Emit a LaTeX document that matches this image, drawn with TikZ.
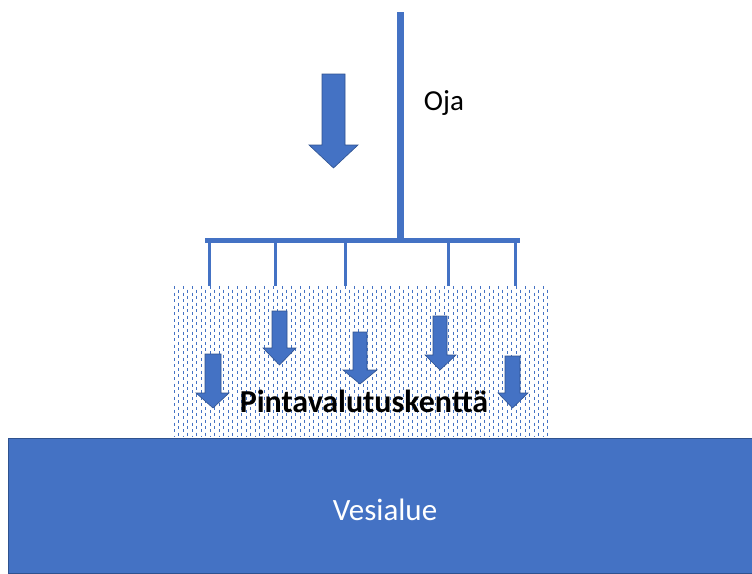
\documentclass[tikz,border=0pt]{standalone}
\usepackage{fontspec}
\setmainfont{Carlito}
\definecolor{accblue}{HTML}{4472C4}
\definecolor{darkblue}{HTML}{2F528F}
\begin{document}
\begin{tikzpicture}[x=1pt,y=-1pt,
  pipe/.style={draw=accblue,line width=#1},
  blockarrow/.style={fill=accblue,draw=darkblue,line width=0.6pt},
  lbl/.style={inner sep=0pt,anchor=center}]
\useasboundingbox (0,0) rectangle (752,573);
% water area
\node[draw=darkblue,fill=accblue,line width=1pt,minimum width=744,minimum height=135,inner sep=0pt,anchor=north west] (vesi) at (8,438) {};
\node[lbl,text=white,font=\fontsize{31}{36}\selectfont] (vesitxt) at (385,510) {Vesialue};
% dotted field
\foreach \i in {0,...,83}{
  \pgfmathsetmacro{\xx}{174+\i*4.5}
  \pgfmathsetmacro{\ph}{mod(\i,2)*3}
  \draw[accblue,line width=0.6pt,dash pattern=on 3 off 3.5,dash phase=\ph] (\xx,286) -- (\xx,437);
}
% ditch
\coordinate (ojatop) at (400.5,12);
\coordinate (ojabot) at (400.5,240);
\draw[pipe=7] (ojatop) -- (ojabot);
\coordinate (hl) at (207,240);
\coordinate (hr) at (517.5,240);
\draw[pipe=5,line cap=rect] (hl) -- (hr);
\foreach \x/\n in {209/a,275/b,345/c,448/d,515/e}{
  \coordinate (t\n) at (\x,240);
  \coordinate (b\n) at (\x,286);
  \draw[pipe=3] (t\n) -- (b\n);
}
\node[lbl,font=\fontsize{29}{34}\selectfont] (oja) at (444,103) {Oja};
% big arrow
\draw[blockarrow] (322,74) -- (345,74) -- (345,145) -- (358,145) -- (333.5,168) -- (309,145) -- (322,145) -- cycle;
% small arrows: left, right, top, headstart, headleft, headright, tip
\foreach \l/\r/\t/\h/\hl/\hr/\tp in {
  205/221/354/393/196/229/408,
  272/287/311/348/263/296/365,
  353/367/332/370/343/377/384,
  433/447/316/355/425/456/370,
  505/520/356/393/498/528/408}{
  \draw[blockarrow] (\l,\t) -- (\r,\t) -- (\r,\h) -- (\hr,\h) -- ({(\l+\r)/2},\tp) -- (\hl,\h) -- (\l,\h) -- cycle;
}
\node[lbl,font=\bfseries\fontsize{32}{38}\selectfont] (pinta) at (364,401) {Pintavalutuskenttä};
\end{tikzpicture}
\end{document}
